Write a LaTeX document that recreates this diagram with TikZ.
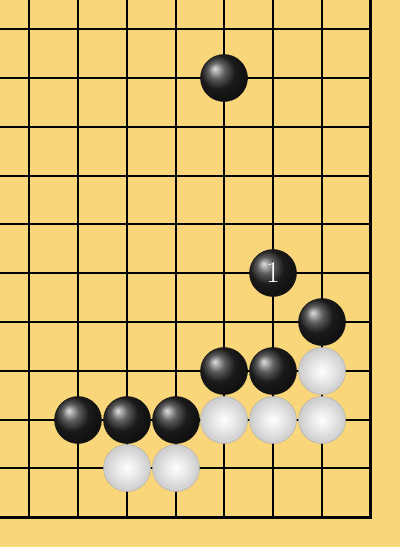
\documentclass[tikz,border=0pt]{standalone}
\definecolor{board}{RGB}{250,214,123}
\tikzset{
  stone/.style={circle, minimum size=47pt, inner sep=0pt},
  bstone/.style={stone, ball color=black!85, draw=black!90, line width=0.5pt},
  wstone/.style={stone, inner color=white, outer color=gray!40, draw=gray!60, line width=0.5pt},
  grid/.style={line width=2pt, black},
  edge/.style={line width=3pt, black, line cap=rect},
}
\begin{document}
\begin{tikzpicture}[x=1pt,y=-1pt]
\fill[board] (0,0) rectangle (400,547);
\useasboundingbox (0,0) rectangle (400,547);
% grid
\foreach \v in {29,78,127,176,224,273,322} {
  \draw[grid] (\v,0) -- (\v,517);
}
\foreach \v in {29,78,127,176,224,273,322,371,420,468} {
  \draw[grid] (0,\v) -- (370.5,\v);
}
\draw[edge] (0,517.5) -- (370.5,517.5) -- (370.5,0);
% stones
\node[bstone] (s1) at (224,78) {};
\node[bstone, text=white, font=\fontsize{30}{30}\selectfont] (m1) at (273,273) {1};
\node[bstone] (s2) at (322,322) {};
\node[bstone] (s3) at (224,371) {};
\node[bstone] (s4) at (273,371) {};
\node[wstone] (w1) at (322,371) {};
\node[bstone] (s5) at (78,420) {};
\node[bstone] (s6) at (127,420) {};
\node[bstone] (s7) at (176,420) {};
\node[wstone] (w2) at (224,420) {};
\node[wstone] (w3) at (273,420) {};
\node[wstone] (w4) at (322,420) {};
\node[wstone] (w5) at (127,468) {};
\node[wstone] (w6) at (176,468) {};
\end{tikzpicture}
\end{document}
